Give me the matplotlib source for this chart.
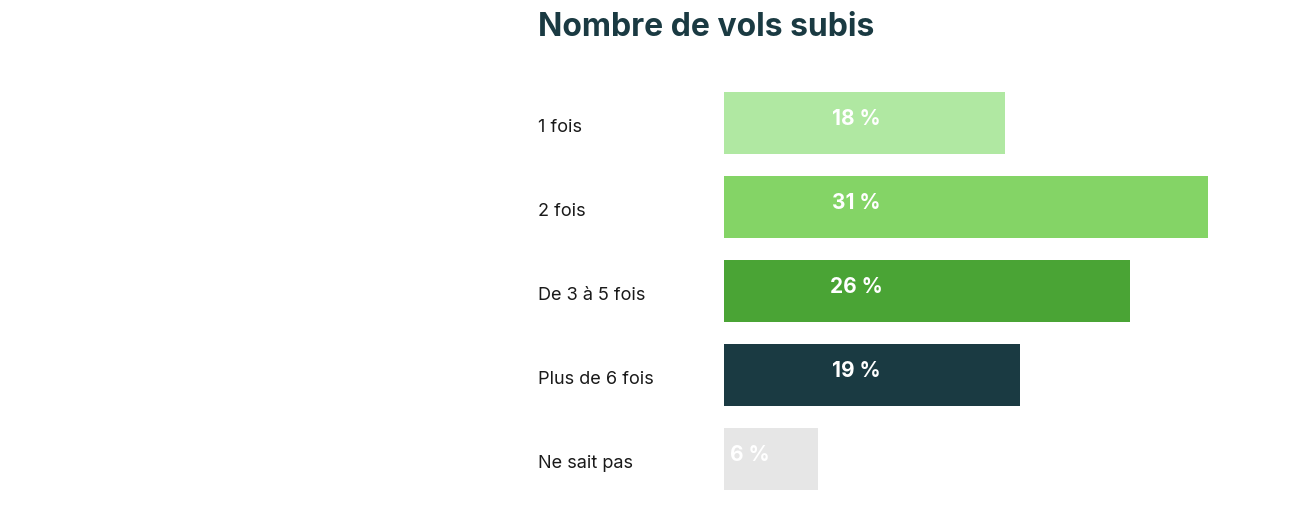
import matplotlib.pyplot as plt

categories = ['1 fois', '2 fois', 'De 3 à 5 fois', 'Plus de 6 fois', 'Ne sait pas']
values = [18, 31, 26, 19, 6]
colors = ['#b0e8a2', '#84d466', '#4aa435', '#1a3a42', '#e6e6e6']

W, H = 1300, 517
fig = plt.figure(figsize=(W / 100, H / 100), dpi=100)
# axes spans the bar area; 1 % = 15.6 px
ax = fig.add_axes([724 / W, 0, 576 / W, 1])
ax.set_xlim(0, 576 / 15.6)
# bar centres at 123 + 84*i px from top
px = 84
ax.set_ylim(-(H - 123) / px, 123 / px)
ax.invert_yaxis()
ax.set_ylim((H - 123) / px, -123 / px)
ax.axis('off')

ys = list(range(len(values)))
ax.barh(ys, values, height=62 / px, color=colors)
for y, v, c in zip(ys, values, categories):
    if v > 10:
        ax.text(8.5, y - 0.05, f'{v} %', ha='center', va='center',
                color='white', fontsize=15, fontweight='bold', family='Inter')
    else:
        ax.text(0.4, y - 0.05, f'{v} %', ha='left', va='center',
                color='white', fontsize=15, fontweight='bold', family='Inter')
    fig.text(538 / W, 1 - (123 + px * y + 5) / H, c, ha='left', va='center',
             fontsize=13, color='#1a1a1a', family='Inter')

fig.text(538 / W, 1 - 28 / H, 'Nombre de vols subis', ha='left', va='center',
         fontsize=23, fontweight='bold', color='#1a3a42', family='Inter')

fig.savefig('out.png', dpi=100)
